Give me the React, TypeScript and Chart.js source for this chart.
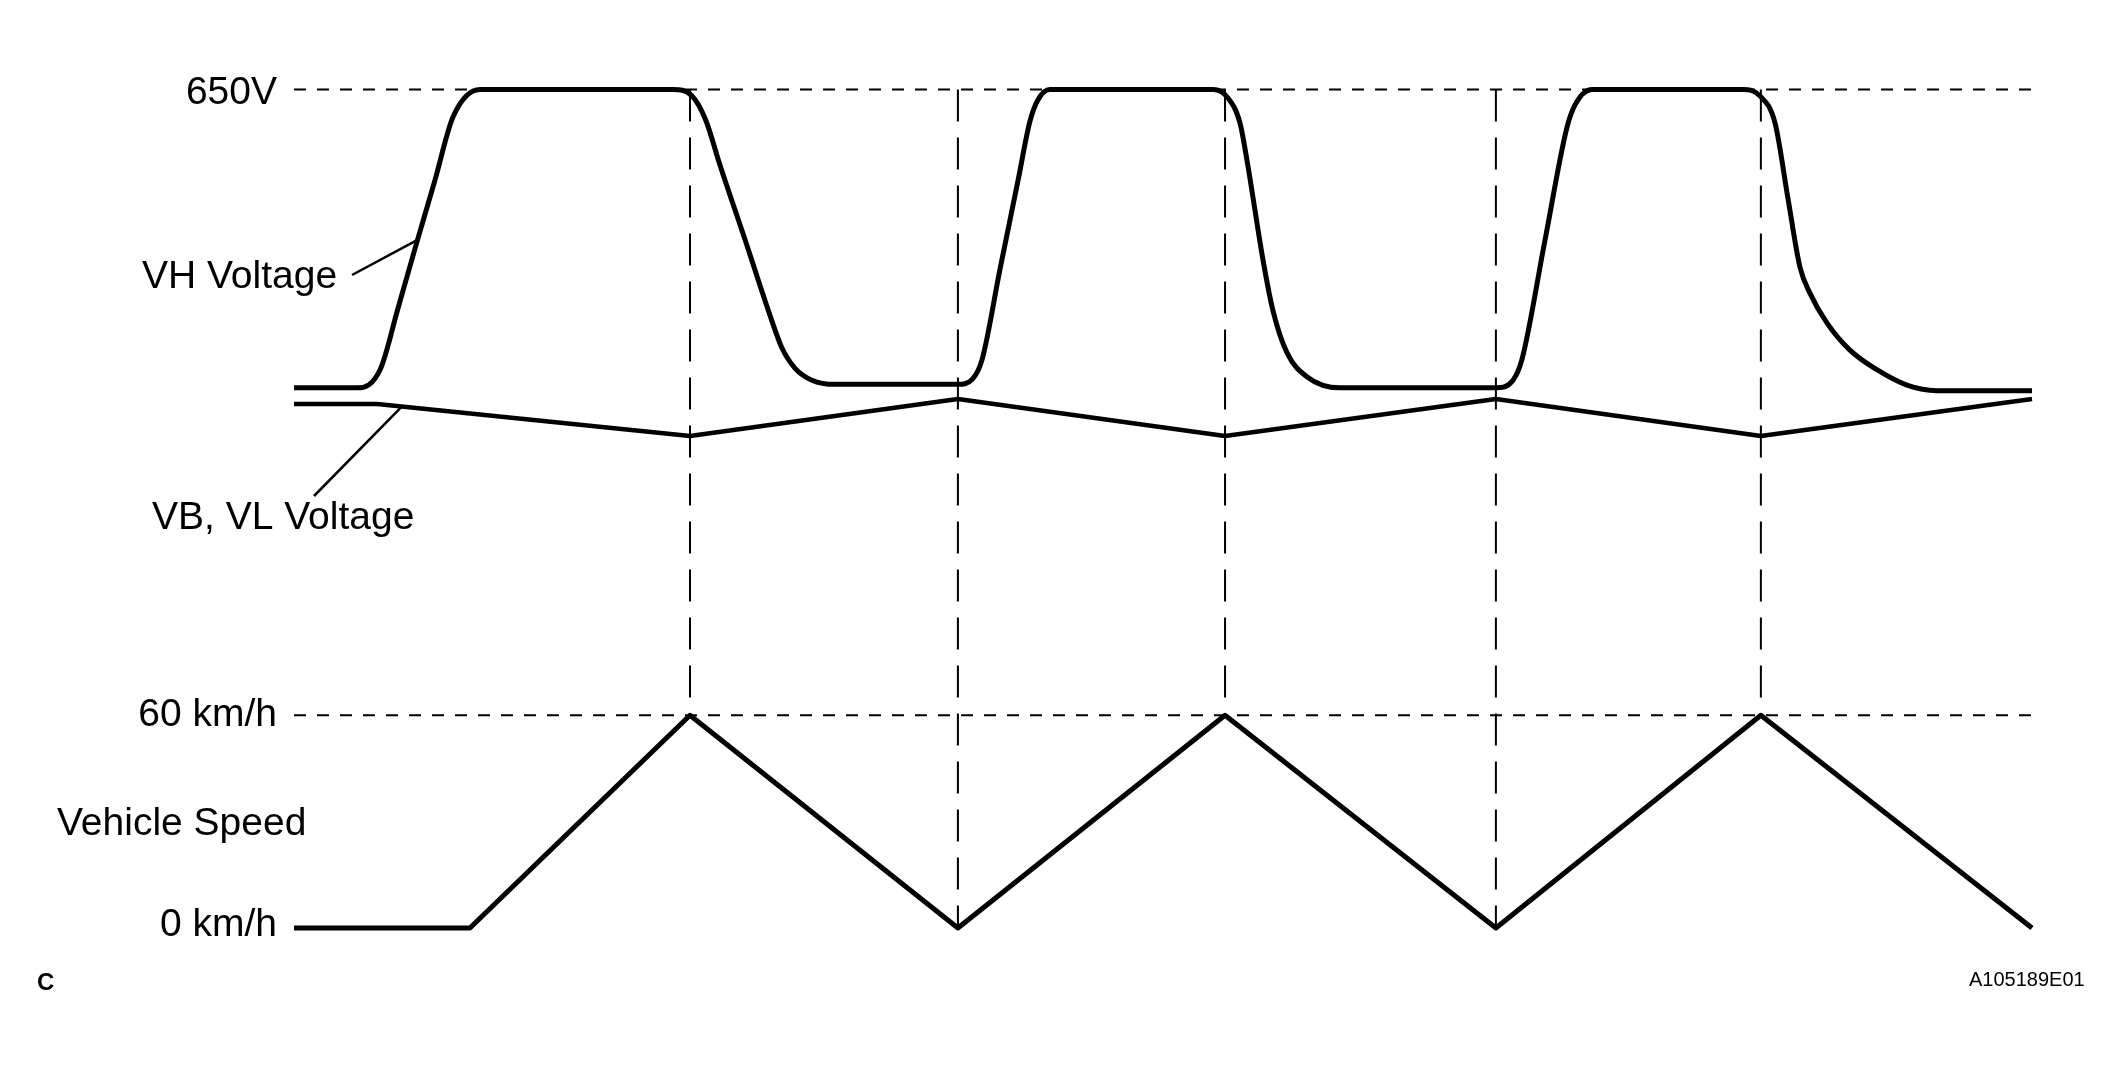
import Chart from "chart.js/auto"
import type { Plugin } from "chart.js/auto"
import { FC, useEffect, useRef } from "react"

// time axis in arbitrary units (one unit ~ one speed ramp)
const vhTime = [
    0, 0.239, 0.322, 0.389, 0.456, 0.527, 0.595, 0.696,
    1.417, 1.488, 1.54, 1.593, 1.687, 1.78, 1.825, 1.874, 1.937, 2.023,
    2.483, 2.536, 2.573, 2.64, 2.708, 2.752, 2.782, 2.827,
    3.437, 3.493, 3.538, 3.564, 3.624, 3.661, 3.714, 3.788, 3.912,
    4.495, 4.559, 4.592, 4.678, 4.761, 4.791, 4.854,
    5.419, 5.482, 5.539, 5.587, 5.632, 5.669, 5.733, 5.819, 5.92, 6.032, 6.144, 6.5
]
const vhVolts = [
    223, 223, 249, 337, 427, 520, 611, 650,
    650, 641, 606, 542, 435, 327, 280, 251, 234, 228,
    228, 235, 263, 392, 520, 604, 635, 650,
    650, 638, 602, 549, 406, 334, 273, 239, 223,
    223, 234, 263, 433, 596, 628, 650,
    650, 641, 602, 495, 396, 359, 316, 277, 249, 227, 219, 219
]

const vbTime = [0, 0.311, 1.481, 2.483, 3.482, 4.495, 5.486, 6.5]
const vbVolts = [200, 200, 154, 207, 154, 207, 154, 207]

const speedTime = [0, 0.658, 1.481, 2.483, 3.482, 4.495, 5.486, 6.5]
const speedKmh = [0, 0, 60, 0, 60, 0, 60, 0]

const markerTimes = [1.481, 2.483, 3.482, 4.495, 5.486]
const timeRange = [0, 6.5]
const voltRef = 650
const speedRef = 60
const speedZero = 0

const voltTick = "650V"
const speedTicks = ["60 km/h", "0 km/h"]
const seriesNames = ["VH Voltage", "VB, VL Voltage", "Vehicle Speed"]
const cornerMark = "C"
const figureId = "A105189E01"

const FONT = '"Liberation Sans", Arial, sans-serif'

const lerp = (xs: number[], ys: number[], x: number) => {
    for (let i = 1; i < xs.length; i++) {
        if (x <= xs[i]) {
            const f = (x - xs[i - 1]) / (xs[i] - xs[i - 1])
            return ys[i - 1] + f * (ys[i] - ys[i - 1])
        }
    }
    return ys[ys.length - 1]
}

const toPoints = (xs: number[], ys: number[]) =>
    xs.map((x, i) => ({ x, y: ys[i] }))

const annotate: Plugin<"line"> = {
    id: "annotate",
    beforeDatasetsDraw(chart) {
        const { ctx, scales } = chart
        const x = scales.x
        const v = scales.volt
        const s = scales.speed
        ctx.save()
        ctx.strokeStyle = "#000"
        ctx.lineWidth = 2
        ctx.setLineDash([32, 16])
        markerTimes.forEach((t) => {
            const px = x.getPixelForValue(t)
            ctx.beginPath()
            ctx.moveTo(px, v.getPixelForValue(voltRef))
            ctx.lineTo(px, s.getPixelForValue(lerp(speedTime, speedKmh, t)))
            ctx.stroke()
        })
        ctx.restore()
    },
    afterDatasetsDraw(chart) {
        const { ctx, scales, chartArea } = chart
        const x = scales.x
        const v = scales.volt
        const s = scales.speed
        ctx.save()
        ctx.fillStyle = "#000"
        ctx.strokeStyle = "#000"
        ctx.textBaseline = "alphabetic"

        // tick-like labels on the left
        ctx.font = `39px ${FONT}`
        ctx.textAlign = "right"
        const right = chartArea.left - 17
        ctx.fillText(voltTick, right, v.getPixelForValue(voltRef) + 14)
        ctx.fillText(speedTicks[0], right, s.getPixelForValue(speedRef) + 11)
        ctx.fillText(speedTicks[1], right, s.getPixelForValue(speedZero) + 8)

        // series names
        ctx.textAlign = "left"
        ctx.fillText(seriesNames[0], 142, 288)
        ctx.fillText(seriesNames[1], 152, 529)
        ctx.fillText(seriesNames[2], 57, 835)

        // leaders from names to their traces
        ctx.lineWidth = 2.5
        const vhT = 0.462
        ctx.beginPath()
        ctx.moveTo(352, 275)
        ctx.lineTo(x.getPixelForValue(vhT), v.getPixelForValue(lerp(vhTime, vhVolts, vhT)))
        ctx.stroke()
        const vbT = 0.404
        ctx.beginPath()
        ctx.moveTo(314, 496)
        ctx.lineTo(x.getPixelForValue(vbT), v.getPixelForValue(lerp(vbTime, vbVolts, vbT)))
        ctx.stroke()

        ctx.font = `bold 24px ${FONT}`
        ctx.fillText(cornerMark, 37, 990)
        ctx.font = `20px ${FONT}`
        ctx.fillText(figureId, 1969, 986)
        ctx.restore()
    }
}

const App: FC = () => {
    const canvasRef = useRef<HTMLCanvasElement>(null)

    useEffect(() => {
        let chart: Chart | null = null
        if (canvasRef.current) {
            const solid = {
                borderColor: "#000",
                pointRadius: 0,
                clip: false as const,
                borderJoinStyle: "round" as const,
                fill: false
            }
            chart = new Chart(canvasRef.current, {
                type: "line",
                data: {
                    datasets: [
                        {
                            ...solid,
                            label: seriesNames[0],
                            data: toPoints(vhTime, vhVolts),
                            yAxisID: "volt",
                            borderWidth: 5,
                            cubicInterpolationMode: "monotone"
                        },
                        {
                            ...solid,
                            label: seriesNames[1],
                            data: toPoints(vbTime, vbVolts),
                            yAxisID: "volt",
                            borderWidth: 4.5,
                            tension: 0
                        },
                        {
                            ...solid,
                            label: seriesNames[2],
                            data: toPoints(speedTime, speedKmh),
                            yAxisID: "speed",
                            borderWidth: 5,
                            tension: 0
                        },
                        {
                            ...solid,
                            label: voltTick,
                            data: timeRange.map((t) => ({ x: t, y: voltRef })),
                            yAxisID: "volt",
                            borderWidth: 2,
                            borderDash: [12, 11]
                        },
                        {
                            ...solid,
                            label: speedTicks[0],
                            data: timeRange.map((t) => ({ x: t, y: speedRef })),
                            yAxisID: "speed",
                            borderWidth: 2,
                            borderDash: [12, 11]
                        }
                    ]
                },
                options: {
                    animation: false,
                    responsive: true,
                    maintainAspectRatio: false,
                    events: [],
                    layout: {
                        padding: { left: 294, right: 86, top: 89.5, bottom: 138 }
                    },
                    scales: {
                        x: {
                            type: "linear",
                            min: timeRange[0],
                            max: timeRange[1],
                            display: false
                        },
                        volt: {
                            axis: "y",
                            type: "linear",
                            position: "left",
                            min: -550,
                            max: 650,
                            display: false
                        },
                        speed: {
                            axis: "y",
                            type: "linear",
                            position: "left",
                            min: 0,
                            max: 236.5,
                            display: false
                        }
                    },
                    plugins: {
                        legend: { display: false },
                        tooltip: { enabled: false }
                    }
                },
                plugins: [annotate]
            })
        }

        return () => {
            if (chart) chart.destroy()
        }
    }, [])

    return (
        <div
            style={{
                position: "fixed",
                left: 0,
                top: 0,
                width: 2118,
                height: 1066,
                background: "#fff"
            }}
        >
            <canvas ref={canvasRef}></canvas>
        </div>
    )
}

export default App
